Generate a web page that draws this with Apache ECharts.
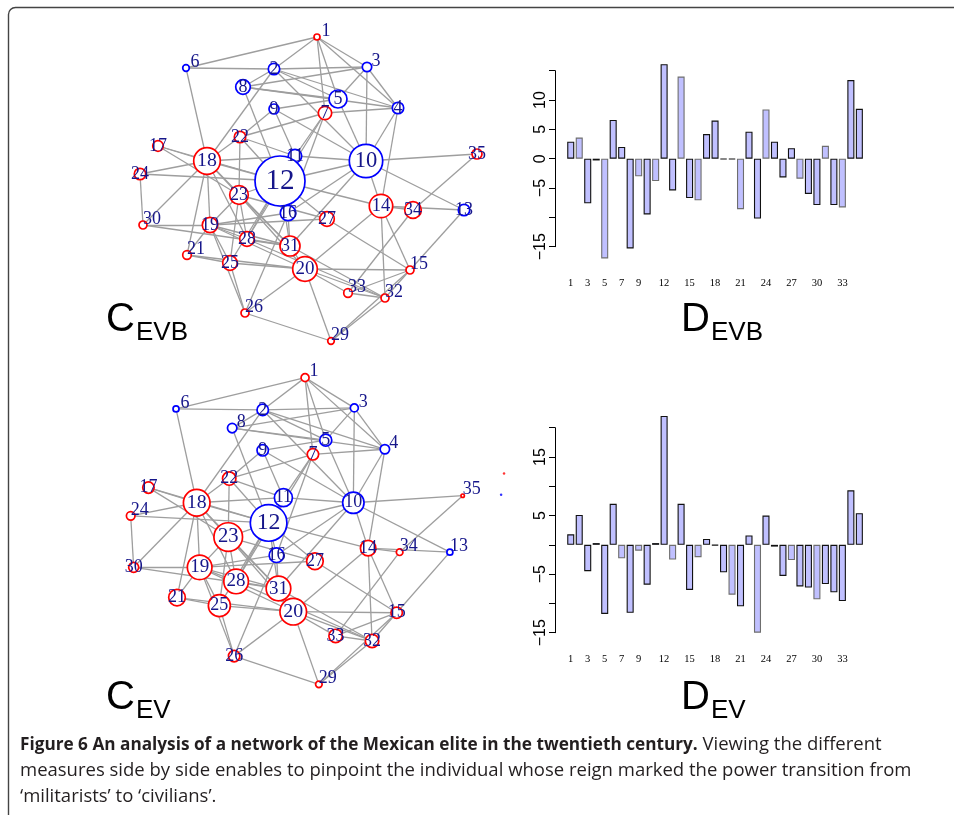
<!DOCTYPE html>
<html>
<head>
<meta charset="utf-8">
<script src="https://cdn.jsdelivr.net/npm/echarts@6/dist/echarts.min.js"></script>
<style>
  html, body { margin: 0; padding: 0; background: #fff; }
  #chart { width: 954px; height: 815px; }
</style>
</head>
<body>
<div id="chart"></div>
<script>
// ---- Actors of the elite network ----
const actors = ['1','2','3','4','5','6','7','8','9','10','11','12','13','14','15','16','17','18',
                '19','20','21','22','23','24','25','26','27','28','29','30','31','32','33','34','35'];
// camp: 'M' = militarist (red), 'C' = civilian (blue)
const camp = ['M','C','C','C','C','C','M','C','C','C','C','C','C','M','M','C','M','M',
              'M','M','M','M','M','M','M','M','M','M','M','M','M','M','M','M','M'];

// Shared force-directed layout (layout units, y grows downward)
const layoutX = [317,274,367,398,338,186,325,243,274,366,295,280,464,381,410,288,158,207,
                 210,305,187,240,239,140,230,245,327,247,331,143,290,385,348,413,477];
const layoutY = [37,69,67,108,99,68,113,87,109,161,156,181,210,206,270,213,146,161,
                 225,269,255,137,195,174,263,313,219,239,341,225,246,298,293,210,154];

// Node scores drawn as circle radii
const scoreEVB = [3,5.7,4.7,5.7,9,3.3,6.7,7.3,5,16.7,6.7,25,5.7,11.7,4,7.7,5.3,13.3,
                  7.7,12.3,4.3,5.7,9.3,5.7,7.3,4,7.3,7.3,3.3,4,10,4,4.3,8.3,5];
const scoreEV  = [4,5.7,4,4.7,6,3,5.7,4.7,5.7,10.7,9,18.3,3,7.7,5.7,7.3,5.7,13.3,
                  12.3,13.3,8.3,6.7,14.3,4.3,11,5.7,8.3,12.3,3.3,5,12.3,6.7,6.7,3.3,1.7];

// Ties between actors
const ties = [
  [1,6],[1,2],[1,3],[1,4],[1,5],[1,7],
  [2,6],[2,3],[2,8],[2,4],[2,5],[2,10],[2,18],
  [3,8],[3,4],[3,5],[3,10],
  [4,7],[4,10],[4,14],[4,8],
  [5,9],[5,10],[5,8],
  [6,18],
  [7,22],[7,11],[7,16],[7,28],
  [8,12],
  [9,22],[9,11],[9,10],
  [10,11],[10,12],[10,14],[10,35],[10,13],[10,16],[10,31],
  [11,18],[11,22],[11,12],
  [12,22],[12,17],[12,24],[12,18],[12,23],[12,14],[12,16],[12,27],[12,28],[12,25],[12,31],
  [13,14],[13,15],
  [14,34],[14,20],[14,32],[14,15],
  [15,27],[15,20],[15,33],[15,32],[15,29],
  [16,19],[16,26],[16,31],
  [17,18],[17,23],
  [18,24],[18,22],[18,23],[18,19],[18,21],[18,30],[18,28],[18,31],
  [19,23],[19,30],[19,27],[19,28],[19,31],[19,21],[19,25],[19,26],[19,20],
  [20,23],[20,21],[20,25],[20,31],[20,33],[20,32],[20,26],[20,29],
  [21,25],[22,23],[23,28],[23,25],[23,31],[23,27],[24,30],[25,26],[26,29],
  [28,31],[28,32],[29,32],[30,31],[31,32],[33,34],[34,35],[33,32]
];

// Two isolated points plotted beside the EV network
const strayRed  = [[519, 132]];
const strayBlue = [[516, 153]];

// ---- Differences per actor ----
const diffEVB = [2.9,3.6,-7.6,-0.3,-17.0,6.6,2.0,-15.3,-3.0,-9.5,-3.8,16.1,-5.4,14.0,-6.7,-7.1,4.2,6.5,
                 -0.1,-0.1,-8.6,4.6,-10.2,8.4,2.9,-3.2,1.8,-3.4,-6.0,-7.9,2.2,-7.9,-8.3,13.4,8.5];
const diffEV  = [1.8,5.1,-4.5,0.3,-11.8,7.0,-2.3,-11.6,-1.0,-6.8,0.3,22.0,-2.5,7.0,-7.7,-2.1,1.0,-0.1,
                 -4.7,-8.5,-10.5,1.6,-15.0,5.0,-0.3,-5.3,-2.6,-7.1,-7.3,-9.3,-6.7,-8.1,-9.6,9.3,5.4];
const xTickLabels = ['1','3','5','7','9','12','15','18','21','24','27','30','33'];
const yTicksEVB = [10, 5, 0, -5, -15];
const yTicksEV  = [15, 5, -5, -15];

// ---- Styling ----
const RED = '#ff0000', BLUE = '#0000ff', LABEL = '#16168a', EDGE = '#9e9e9e';
const BAR_FILL = '#c0c0ff';
const softEdgeEVB = [2,5,9,11,14,16,21,24,28,31,33];
const softEdgeEV  = [7,9,13,16,20,23,27,30];

function nodeData(scores) {
  return actors.map((id, i) => {
    const r = scores[i];
    const small = r < 4.9;
    return {
      name: id,
      value: [layoutX[i], layoutY[i]],
      symbolSize: 2 * r,
      itemStyle: { color: '#fff', borderColor: camp[i] === 'M' ? RED : BLUE, borderWidth: 1.7 },
      label: {
        show: true,
        position: 'inside',
        offset: small ? [9, -6] : [0, 0],
        fontSize: 18 + Math.max(0, r - 11) * 0.8
      }
    };
  });
}

function graphSeries(scores, gi) {
  return {
    type: 'graph',
    coordinateSystem: 'cartesian2d',
    xAxisIndex: gi, yAxisIndex: gi,
    silent: true,
    data: nodeData(scores),
    links: ties.map(([a, b]) => ({ source: String(a), target: String(b) })),
    lineStyle: { color: EDGE, width: 1.3, opacity: 1, curveness: 0 },
    label: { show: true, color: LABEL, fontFamily: 'Liberation Serif', formatter: '{b}' },
    emphasis: { disabled: true },
    z: 2
  };
}

function barSeries(values, soft, gi) {
  return {
    type: 'bar',
    xAxisIndex: gi, yAxisIndex: gi,
    clip: false,
    silent: true,
    barCategoryGap: '17%',
    data: values.map((v, i) => ({
      value: v,
      itemStyle: {
        color: BAR_FILL,
        borderColor: soft.includes(i + 1) ? '#6e6e6e' : '#111',
        borderWidth: 1.1
      }
    }))
  };
}

function barXAxis(gi, margin) {
  return {
    type: 'category', gridIndex: gi, data: actors,
    axisLine: { show: false, onZero: false }, axisTick: { show: false },
    axisLabel: {
      interval: (idx, val) => xTickLabels.includes(val),
      margin: margin, fontSize: 10.5, fontFamily: 'Liberation Serif', color: '#000'
    },
    splitLine: { show: false }
  };
}

function barYAxis(gi, min, max, shown) {
  return {
    type: 'value', gridIndex: gi, min: min, max: max, interval: 5,
    offset: 11.5,
    axisLine: { show: true, lineStyle: { color: '#000', width: 1 } },
    axisTick: { show: true, length: 6, lineStyle: { color: '#000', width: 1 } },
    axisLabel: {
      rotate: 90, margin: 6, fontSize: 16, fontFamily: 'Liberation Sans', color: '#000',
      formatter: v => shown.includes(v) ? String(v).replace('-', '\u2212') : ''
    },
    splitLine: { show: false }
  };
}

const netX = { type: 'value', min: 100, max: 550, show: false };
const netY = { type: 'value', min: 0, max: 400, inverse: true, show: false };

function panelTitle(main, sub, x, y) {
  return [
    { type: 'text', x: x, y: y, silent: true,
      style: { text: main, fontSize: 40, fontFamily: 'Liberation Sans', fill: '#000',
               align: 'left', verticalAlign: 'middle' } },
    { type: 'text', x: x + 30, y: y + 13, silent: true,
      style: { text: sub, fontSize: 26, fontFamily: 'Liberation Sans', fill: '#000',
               align: 'left', verticalAlign: 'middle' } }
  ];
}

const capFont = 'Open Sans';
const option = {
  animation: false,
  backgroundColor: '#fff',
  grid: [
    { left: 100, top: 0, width: 450, height: 400 },
    { left: 91.3, top: 340.3, width: 443.3, height: 403.6 },
    { left: 566.5, top: 70.7, width: 297.1, height: 176 },
    { left: 566.5, top: 427.7, width: 297.1, height: 205 }
  ],
  xAxis: [
    Object.assign({ gridIndex: 0 }, netX),
    Object.assign({ gridIndex: 1 }, netX),
    barXAxis(2, 31),
    barXAxis(3, 21)
  ],
  yAxis: [
    Object.assign({ gridIndex: 0 }, netY),
    Object.assign({ gridIndex: 1 }, netY),
    barYAxis(2, -15, 15, yTicksEVB),
    barYAxis(3, -15, 20, yTicksEV)
  ],
  series: [
    graphSeries(scoreEVB, 0),
    graphSeries(scoreEV, 1),
    { type: 'scatter', xAxisIndex: 1, yAxisIndex: 1, data: strayRed, symbolSize: 2.5,
      itemStyle: { color: RED }, silent: true },
    { type: 'scatter', xAxisIndex: 1, yAxisIndex: 1, data: strayBlue, symbolSize: 2.5,
      itemStyle: { color: BLUE }, silent: true },
    barSeries(diffEVB, softEdgeEVB, 2),
    barSeries(diffEV, softEdgeEV, 3)
  ],
  graphic: [
    // figure frame with a rounded top-left corner
    { type: 'rect', silent: true,
      shape: { x: 8.5, y: 7.5, width: 1000, height: 1000, r: [7, 0, 0, 0] },
      style: { fill: 'none', stroke: '#444', lineWidth: 1.4 } },
    ...panelTitle('C', 'EVB', 106, 320),
    ...panelTitle('D', 'EVB', 681, 320),
    ...panelTitle('C', 'EV', 106, 698),
    ...panelTitle('D', 'EV', 681, 698),
    { type: 'text', x: 20, y: 745, silent: true,
      style: {
        text: '{b|Figure 6 An analysis of a network of the Mexican elite in the twentieth century.}{n| Viewing the different}',
        verticalAlign: 'middle',
        rich: {
          b: { fontFamily: capFont, fontWeight: 'bold', fontSize: 17.2, fill: '#231f20' },
          n: { fontFamily: capFont, fontSize: 18.5, fill: '#231f20' }
        }
      } },
    { type: 'text', x: 20, y: 771, silent: true,
      style: { text: 'measures side by side enables to pinpoint the individual whose reign marked the power transition from',
               fontFamily: capFont, fontSize: 18.5, fill: '#231f20', verticalAlign: 'middle' } },
    { type: 'text', x: 20, y: 797, silent: true,
      style: { text: '\u2018militarists\u2019 to \u2018civilians\u2019.',
               fontFamily: capFont, fontSize: 18.5, fill: '#231f20', verticalAlign: 'middle' } }
  ]
};

const chart = echarts.init(document.getElementById('chart'), null, { renderer: 'canvas' });
chart.setOption(option);
</script>
</body>
</html>
